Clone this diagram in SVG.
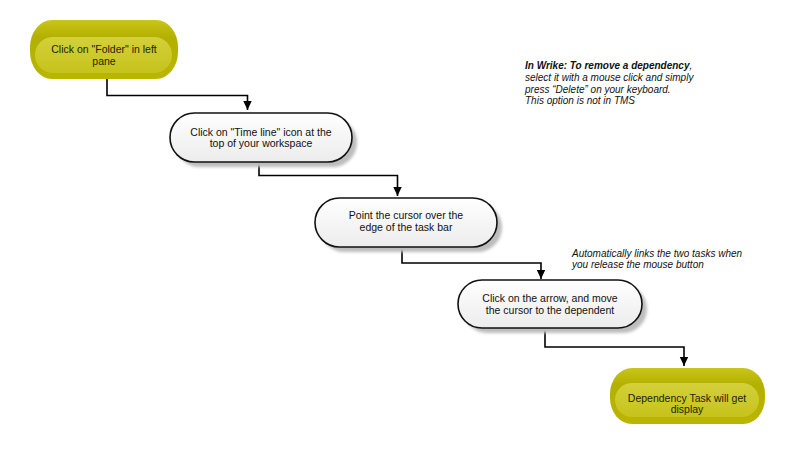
<svg xmlns="http://www.w3.org/2000/svg" width="800" height="459" viewBox="0 0 800 459">
<style>
  text { font-family: "Liberation Sans", Arial, sans-serif; font-size: 10.5px; fill: #111; }
  .c { text-anchor: middle; }
  .y { fill: #1e1e00; }
  .note { font-style: italic; font-size: 10px; }
  .b { font-weight: bold; }
  .conn { fill: none; stroke: #000; stroke-width: 1.6; }
  .pill { fill: url(#wg); stroke: #111; stroke-width: 1.6; }
  .shadow { fill: #bdbdbd; filter: url(#blur); }
  .outer { fill: url(#yo); }
  .inner { fill: url(#yi); }
</style>
<defs>
  <linearGradient id="wg" x1="0" y1="0" x2="0" y2="1">
    <stop offset="0" stop-color="#ffffff"/>
    <stop offset="1" stop-color="#ececec"/>
  </linearGradient>
  <linearGradient id="yo" x1="0" y1="0" x2="0" y2="1">
    <stop offset="0" stop-color="#c9c51a"/>
    <stop offset="0.3" stop-color="#b4b000"/>
    <stop offset="1" stop-color="#b9b500"/>
  </linearGradient>
  <linearGradient id="yi" x1="0" y1="0" x2="0" y2="1">
    <stop offset="0" stop-color="#d3d03a"/>
    <stop offset="1" stop-color="#c6c31c"/>
  </linearGradient>
  <filter id="blur" x="-10%" y="-20%" width="120%" height="140%">
    <feGaussianBlur stdDeviation="1.5"/>
  </filter>
  <marker id="arr" markerWidth="10" markerHeight="10" refX="9" refY="5" orient="auto" markerUnits="userSpaceOnUse">
    <path d="M0,0.8 L9,5 L0,9.2 Z" fill="#000"/>
  </marker>
</defs>

<g id="connectors">
  <path class="conn" d="M107,79 V95.5 H247.5 V110" marker-end="url(#arr)"/>
  <path class="conn" d="M259,162 V175.5 H397.5 V196" marker-end="url(#arr)"/>
  <path class="conn" d="M402,247 V263 H541 V279" marker-end="url(#arr)"/>
  <path class="conn" d="M545,328 V347 H684 V366" marker-end="url(#arr)"/>
</g>

<g id="node1">
  <rect class="outer" x="30" y="20" width="148" height="59" rx="22" ry="27"/>
  <rect class="inner" x="35" y="37" width="137" height="36" rx="18" ry="18"/>
  <text class="c y" x="104" y="52.5">Click on "Folder" in left</text>
  <text class="c y" x="104" y="64.5">pane</text>
</g>

<g id="node2">
  <rect class="shadow" x="175" y="118" width="182" height="49" rx="24.5"/>
  <rect class="pill" x="170" y="113" width="182" height="49" rx="24.5"/>
  <text class="c" x="261" y="135.5">Click on "Time line" icon at the</text>
  <text class="c" x="261" y="146.5">top of your workspace</text>
</g>

<g id="node3">
  <rect class="shadow" x="320" y="203" width="182" height="49" rx="24.5"/>
  <rect class="pill" x="315" y="198" width="182" height="49" rx="24.5"/>
  <text class="c" x="406" y="219">Point the cursor over the</text>
  <text class="c" x="406" y="231">edge of the task bar</text>
</g>

<g id="node4">
  <rect class="shadow" x="463" y="285" width="184" height="48" rx="24"/>
  <rect class="pill" x="458" y="280" width="184" height="48" rx="24"/>
  <text class="c" x="550" y="302">Click on the arrow, and move</text>
  <text class="c" x="550" y="314">the cursor to the dependent</text>
</g>

<g id="node5">
  <rect class="outer" x="610" y="368" width="155" height="56" rx="22" ry="26"/>
  <rect class="inner" x="615" y="383" width="144" height="34" rx="17" ry="17"/>
  <text class="c y" x="687" y="401.5">Dependency Task will get</text>
  <text class="c y" x="687" y="412.5">display</text>
</g>

<g id="note1">
  <text class="note" x="525" y="69"><tspan class="b">In Wrike: To remove a dependency</tspan>,</text>
  <text class="note" x="525" y="81">select it with a mouse click and simply</text>
  <text class="note" x="525" y="92.5">press “Delete” on your keyboard.</text>
  <text class="note" x="525" y="104">This option is not in TMS</text>
</g>

<g id="note2">
  <text class="note" x="572" y="256.5">Automatically links the two tasks when</text>
  <text class="note" x="572" y="268">you release the mouse button</text>
</g>
</svg>
